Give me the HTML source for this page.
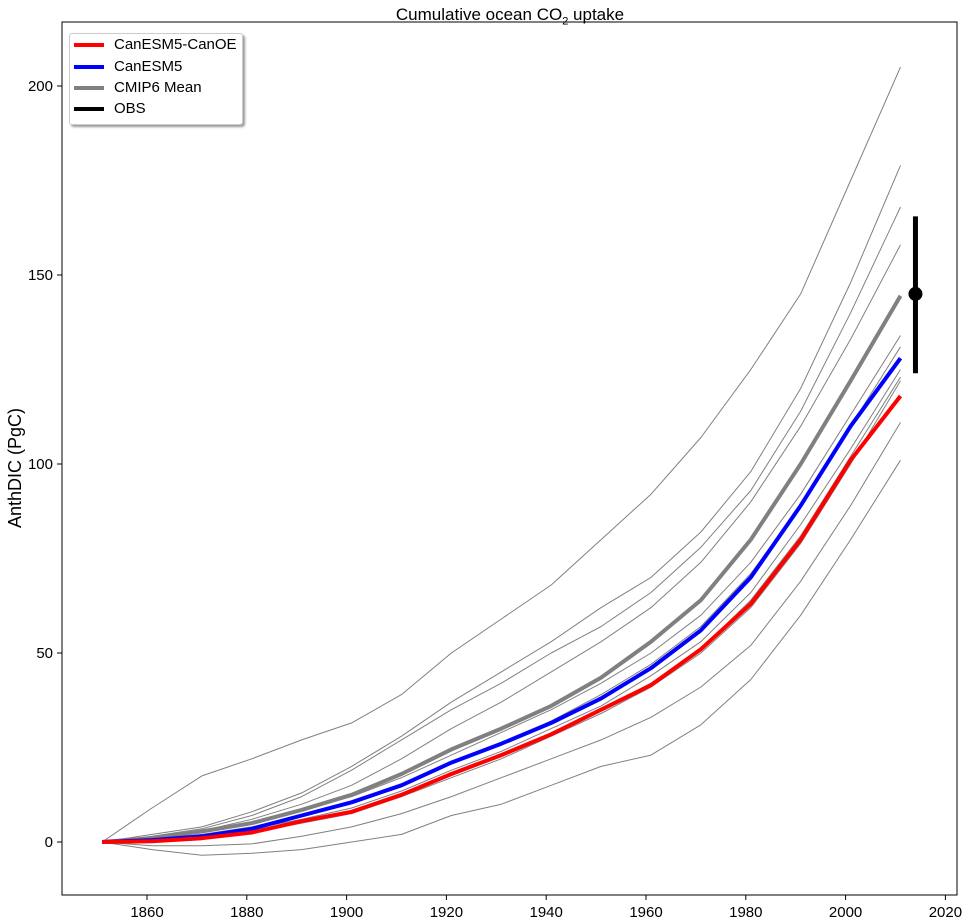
<!DOCTYPE html>
<html><head><meta charset="utf-8"><style>
html,body{margin:0;padding:0;background:#fff;}
svg{display:block;font-family:"Liberation Sans","DejaVu Sans",sans-serif;}
</style></head><body>
<svg id="chart" width="970" height="922"></svg>
<script>
const years=[1851,1861,1871,1881,1891,1901,1911,1921,1931,1941,1951,1961,1971,1981,1991,2001,2011];
const redVals=[0,0.2,1,2.5,5.5,8,12.5,18,23,28.5,35,41.5,51,63,80,101,118];
const blueVals=[0,0.5,1.5,3.5,7,10.5,15,21,26,31.5,38,46,56,70,89,110,128];
const meanVals=[0,1,2.8,5,8.5,12.5,18,24.5,30,36,43.5,53,64,80,100,122,144.5];
const g1=[0,9,17.5,22,27,31.5,39,50,59,68,80,92,107,125,145,175,205];
const g2=[0,2,4,8,13,20,28,37,45,53,62,70,82,98,120,148,179];
const g3=[0,1.5,3.5,7,12,19,27,35,42,50,57,66,78,93,114,140,168];
const g4=[0,1,3,6,10,15,22,30,37,45,53,62,74,90,110,133,158];
const g5=[0,1,3,5,8.5,12,17,23,29,35,42,50,60,74,92,113,134];
const g6=[0,0.5,2,4,7,10.5,15,21,26,32,39,47,57,71,89,110,131];
const g7=[0,0.5,1.5,3.5,6,9,13.5,19,24,30,36,44,53,66,84,104,125];
const g8=[0,0.3,1,3,5.5,8,12.5,18,23,28.5,35,42,51,64,81,102,123];
const g9=[0,0.2,1,2.5,5,7.5,12,17,22,28,34,41,50,62,79,100,122];
const g10=[0,-1,-1,-0.5,1.5,4,7.5,12,17,22,27,33,41,52,69,89,111];
const g11=[0,-2,-3.5,-3,-2,0,2,7,10,15,20,23,31,43,60,80,101];
const grayModels=[g1,g2,g3,g4,g5,g6,g7,g8,g9,g10,g11];
const xTicks=[1860,1880,1900,1920,1940,1960,1980,2000,2020];
const yTicks=[0,50,100,150,200];
const obsYear=2014, obsVal=145, obsLow=124, obsHigh=165.5;

const NS="http://www.w3.org/2000/svg";
const svg=document.getElementById('chart');
const X=y=>147+(y-1860)*4.99;
const Y=v=>842-v*3.78;
function el(t,a,p){const e=document.createElementNS(NS,t);for(const k in a)e.setAttribute(k,a[k]);(p||svg).appendChild(e);return e;}
const L=62,T=22,R=957,B=895;
function line(vals,color,w,name){
  const d=vals.map((v,i)=>(i?'L':'M')+X(years[i]).toFixed(1)+','+Y(v).toFixed(1)).join(' ');
  const p=el('path',{d:d,fill:'none',stroke:color,'stroke-width':w,'stroke-linejoin':'round'});
  
  
}
grayModels.forEach((g,i)=>line(g,'#808080',1,'model-line-'+(i+1)));
line(meanVals,'#808080',4,'cmip6-mean-line');
line(blueVals,'#0000ff',4,'canesm5-line');
line(redVals,'#ff0000',4,'canesm5-canoe-line');
const ob=el('line',{x1:X(obsYear),x2:X(obsYear),y1:Y(obsLow),y2:Y(obsHigh),stroke:'#000','stroke-width':5});


const oc=el('circle',{cx:X(obsYear),cy:Y(obsVal),r:7,fill:'#000'});


const fr=el('rect',{x:L,y:T,width:R-L,height:B-T,fill:'none',stroke:'#000','stroke-width':1});


xTicks.forEach(t=>{
  el('line',{x1:X(t),x2:X(t),y1:B,y2:B+5,stroke:'#000'});
  const tx=el('text',{x:X(t),y:B+22,'font-size':15,'text-anchor':'middle'});tx.textContent=t;
  
  
});
yTicks.forEach(t=>{
  el('line',{x1:L-5,x2:L,y1:Y(t),y2:Y(t),stroke:'#000'});
  const tx=el('text',{x:L-9,y:Y(t)+5,'font-size':15,'text-anchor':'end'});tx.textContent=t;
  
  
});
const yt=el('text',{x:0,y:0,'font-size':18,'text-anchor':'middle',transform:'translate(21,468) rotate(-90)'});
yt.textContent='AnthDIC (PgC)';


</script>
<div style="position:absolute;left:0;top:0;width:970px;height:922px;pointer-events:none;font-family:'Liberation Sans','DejaVu Sans',sans-serif;">
  <div style="position:absolute;left:0;width:1020px;top:5px;text-align:center;font-size:17px;white-space:nowrap;">Cumulative ocean CO<sub style="font-size:11px">2</sub> uptake</div>
  <div style="position:absolute;left:69px;top:33px;width:172px;height:90px;border:1px solid #ccc;border-radius:3px;background:#fff;box-shadow:2px 2px 2px #999;font-size:15px;">
    <div style="position:absolute;left:4px;top:2px;white-space:nowrap;"><span style="display:inline-block;width:30px;height:4px;background:#f00;vertical-align:middle;margin-right:10px"></span>CanESM5-CanOE</div>
    <div style="position:absolute;left:4px;top:24px;white-space:nowrap;"><span style="display:inline-block;width:30px;height:4px;background:#00f;vertical-align:middle;margin-right:10px"></span>CanESM5</div>
    <div style="position:absolute;left:4px;top:45px;white-space:nowrap;"><span style="display:inline-block;width:30px;height:4px;background:#808080;vertical-align:middle;margin-right:10px"></span>CMIP6 Mean</div>
    <div style="position:absolute;left:4px;top:66px;white-space:nowrap;"><span style="display:inline-block;width:30px;height:4px;background:#000;vertical-align:middle;margin-right:10px"></span>OBS</div>
  </div>
</div>
</body></html>
